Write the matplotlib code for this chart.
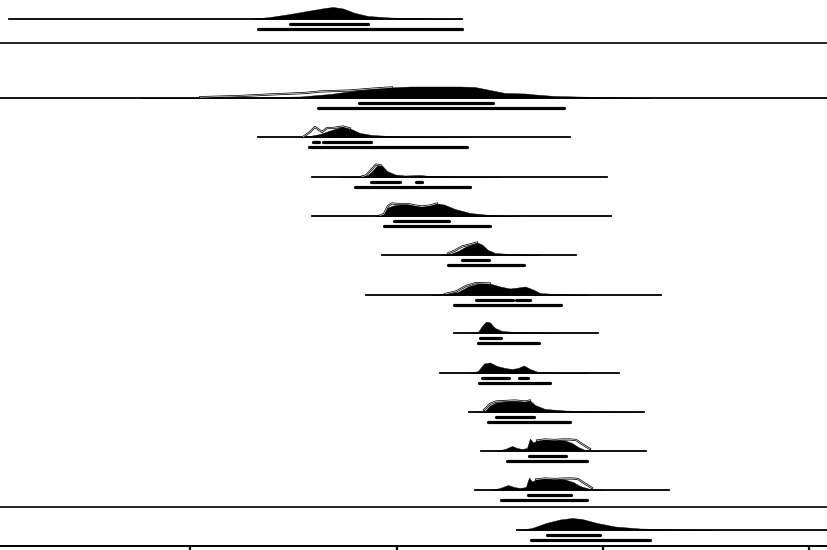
import matplotlib.pyplot as plt

# x positions of the axis ticks (labels are cropped away in the reference)
tick_pos = [190, 397, 603, 809]

# one entry per row, top to bottom
baselines = [19, 98, 137, 177, 216, 255, 295, 333, 373, 412, 451, 490, 530]
line_start = [9, 0, 258, 312, 312, 382, 366, 454, 440, 469, 481, 475, 517]
line_end = [462, 828, 570, 607, 611, 576, 661, 598, 619, 644, 646, 669, 828]

# posterior densities (filled), knots as (x, height)
post_x = [
    [250, 270, 290, 310, 325, 333, 343, 355, 368, 390, 430, 462],
    [140, 200, 260, 300, 330, 360, 390, 410, 460, 475, 490, 505, 525, 535, 555, 600, 650],
    [303, 312, 320, 330, 343, 350, 360, 372, 400, 470],
    [340, 360, 368, 373, 378, 382, 387, 395, 405, 415, 420, 430, 460, 500],
    [375, 383, 388, 393, 400, 408, 415, 422, 430, 437, 444, 455, 470, 490, 520],
    [440, 450, 458, 465, 472, 477, 482, 488, 495, 510, 540],
    [430, 445, 458, 468, 478, 490, 500, 510, 518, 525, 532, 540, 555, 590],
    [470, 478, 482, 486, 490, 495, 502, 515, 540, 560],
    [470, 478, 484, 490, 497, 505, 512, 518, 524, 530, 538, 560, 590],
    [478, 485, 490, 496, 505, 515, 525, 530, 535, 545, 565, 600, 640],
    [495, 505, 512, 517, 522, 527, 530, 533, 537, 545, 555, 565, 572, 578, 585, 600],
    [490, 500, 508, 514, 520, 526, 529, 532, 536, 545, 555, 565, 573, 580, 590, 605],
    [519, 532, 546, 560, 572, 582, 597, 615, 640, 680, 720],
]
post_h = [
    [0, 2, 5, 8.5, 11, 12, 10.5, 6, 3, 1.5, 0.5, 0],
    [0, 0.3, 0.7, 1.5, 4, 8, 10.5, 11.5, 11.5, 11, 8, 5, 4.5, 3.5, 2, 1, 0],
    [0, 1.5, 3, 6.5, 10.5, 8.5, 4, 2, 0.5, 0],
    [0, 0.5, 2, 7, 12.5, 11.5, 6, 2.5, 1.5, 1.8, 2, 1, 0.5, 0],
    [0, 1, 8.5, 10.5, 11.5, 12, 10.5, 9.5, 10.5, 12.5, 11.5, 7, 3, 1, 0],
    [0, 1, 4, 8, 10.5, 12.5, 10.5, 5, 2, 1, 0],
    [0, 1, 3, 8.5, 11.5, 11.5, 8.5, 6.5, 7.5, 8.5, 6, 2, 1, 0],
    [0, 1, 7, 11.5, 10.5, 5, 2, 1, 0.5, 0],
    [0, 2, 9.5, 10.5, 7, 5, 4, 5, 7.5, 4, 1, 0.3, 0],
    [0, 1, 6.5, 9.5, 10.5, 11, 10.5, 11.5, 7, 3, 1.5, 0.5, 0],
    [0, 2, 5, 3, 2, 3, 12.5, 8.5, 10.5, 11.5, 11, 10.5, 8, 4, 1, 0],
    [0, 2, 5, 3, 2, 3, 12.5, 8.5, 10.5, 11.5, 11, 10.5, 8, 4, 1, 0],
    [0, 2, 7, 10.5, 12, 11, 7, 3.5, 1.5, 0.5, 0],
]

# likelihoods (outline only), None where the row has none
like_x = [
    None,
    [200, 240, 270, 305, 320, 350, 375, 392],
    [303, 310, 315, 322, 327, 333, 343, 350],
    [362, 366, 371, 376, 381],
    [380, 384, 388, 392, 398, 408, 415, 422, 430, 437],
    [448, 455, 462, 470, 477],
    [445, 456, 466, 476, 490],
    None,
    None,
    [484, 490, 496, 505, 515, 525, 530],
    [537, 545, 555, 562, 570, 576, 582, 590],
    [536, 545, 555, 565, 572, 578, 584, 592],
    None,
]
like_h = [
    None,
    [0.8, 2, 3.5, 5, 6.5, 7.5, 9.5, 10.6],
    [0, 5, 10, 5, 9, 9, 10.5, 8.5],
    [0.5, 1.5, 7, 12.5, 11.5],
    [0.5, 2, 10, 12.5, 12, 12, 10.5, 9.5, 10.5, 12.5],
    [1.5, 4.5, 8.5, 10.5, 12.5],
    [1, 3.5, 9, 12, 11.5],
    None,
    None,
    [2, 8, 10.5, 11, 11.5, 10.5, 11.5],
    [10.5, 11.5, 11, 11.5, 11.5, 11, 7, 2],
    [10.5, 11.5, 11, 11.5, 11.5, 11, 7, 2],
    None,
]

# highest posterior density ranges
hpd68 = [
    [(290, 368)],
    [(359, 493)],
    [(313, 319), (323, 371)],
    [(371, 400), (416, 422)],
    [(394, 449)],
    [(462, 489)],
    [(476, 513), (516, 530)],
    [(480, 501)],
    [(482, 509), (519, 528)],
    [(496, 534)],
    [(529, 566)],
    [(528, 571)],
    [(547, 600)],
]
hpd95 = [
    [(258, 462)],
    [(318, 564)],
    [(309, 467)],
    [(355, 470)],
    [(384, 490)],
    [(448, 524)],
    [(454, 561)],
    [(478, 539)],
    [(479, 550)],
    [(488, 570)],
    [(507, 587)],
    [(501, 587)],
    [(531, 650)],
]

# horizontal separators between groups
separators = [43, 507]

fig = plt.figure(figsize=(8.28, 5.5), dpi=100)
ax = fig.add_axes([0, 4 / 550, 1, 546 / 550])
ax.set_xlim(0, 828)
ax.set_ylim(546, 0)

for i, y0 in enumerate(baselines):
    ax.plot([line_start[i], line_end[i]], [y0, y0], color='black', lw=1.3, zorder=2)
    if like_x[i] is not None:
        ly = [y0 - h for h in like_h[i]]
        ax.plot(like_x[i], ly, color='black', lw=1.5, zorder=3)
    py = [y0 - h for h in post_h[i]]
    ax.fill_between(post_x[i], py, y0, color='black', lw=0.3, edgecolor='black', zorder=4)
    if like_x[i] is not None:
        ax.plot(like_x[i], ly, color='white', lw=0.45, zorder=5)
    for a, b in hpd68[i]:
        ax.plot([a, b], [y0 + 4.5, y0 + 4.5], color='black', lw=2.3,
                solid_capstyle='round', zorder=3)
    for a, b in hpd95[i]:
        ax.plot([a, b], [y0 + 9.5, y0 + 9.5], color='black', lw=2.3,
                solid_capstyle='round', zorder=3)

for s in separators:
    ax.axhline(s, color='#222222', lw=1.4)

for side in ['top', 'left', 'right']:
    ax.spines[side].set_visible(False)
ax.spines['bottom'].set_linewidth(1.4)
ax.set_yticks([])
ax.set_xticks(tick_pos)
ax.set_xticklabels([])
ax.tick_params(axis='x', direction='out', length=3, width=1.6)

fig.savefig('out.png', dpi=100)
